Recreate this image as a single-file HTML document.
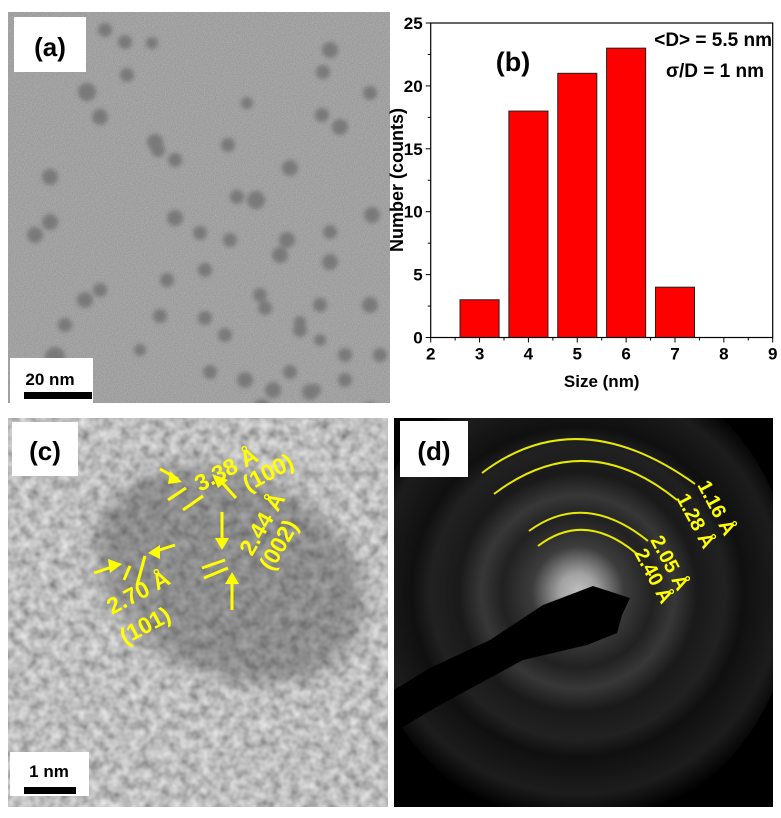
<!DOCTYPE html>
<html><head><meta charset="utf-8">
<style>
html,body{margin:0;padding:0;background:#fff;}
body{width:781px;height:818px;overflow:hidden;font-family:"Liberation Sans",sans-serif;}
svg{position:absolute;left:0;top:0;}
</style></head>
<body>
<svg id="fig" width="781" height="818" viewBox="0 0 781 818" xmlns="http://www.w3.org/2000/svg">
<defs>
  <filter id="noiseA" x="0" y="0" width="100%" height="100%">
    <feTurbulence type="fractalNoise" baseFrequency="0.9" numOctaves="2" seed="3" result="n"/>
    <feColorMatrix type="matrix" values="0 0 0 0 0.55  0 0 0 0 0.55  0 0 0 0 0.55  0.9 0 0 0 -0.3" in="n" result="m"/>
    <feComposite in="m" in2="SourceGraphic" operator="over"/>
  </filter>
  <filter id="noiseC" x="0" y="0" width="100%" height="100%">
    <feTurbulence type="fractalNoise" baseFrequency="0.1" numOctaves="2" seed="7" result="n"/>
    <feColorMatrix type="matrix" values="0.8 0 0 0 0.15  0.8 0 0 0 0.15  0.8 0 0 0 0.15  0 0 0 0 1" in="n"/>
  </filter>
  <filter id="blur2"><feGaussianBlur stdDeviation="2.2"/></filter>
  <filter id="blur6"><feGaussianBlur stdDeviation="8"/></filter>
  <radialGradient id="sad" cx="578" cy="592" r="230" gradientUnits="userSpaceOnUse">
    <stop offset="0" stop-color="#ffffff"/>
    <stop offset="0.08" stop-color="#d8d8d8"/>
    <stop offset="0.2" stop-color="#505050"/>
    <stop offset="0.33" stop-color="#2c2c2c"/>
    <stop offset="0.42" stop-color="#4a4a4a"/>
    <stop offset="0.52" stop-color="#222"/>
    <stop offset="0.64" stop-color="#2c2c2c"/>
    <stop offset="0.72" stop-color="#151515"/>
    <stop offset="0.88" stop-color="#262626"/>
    <stop offset="1" stop-color="#000"/>
  </radialGradient>
  <clipPath id="clipA"><rect x="8" y="12" width="382" height="391"/></clipPath>
  <clipPath id="clipC"><rect x="8" y="418" width="380" height="389"/></clipPath>
  <clipPath id="clipD"><rect x="394" y="418" width="379" height="389"/></clipPath>
</defs>

<g clip-path="url(#clipA)">
  <rect x="8" y="12" width="382" height="391" fill="#9a9a9a"/>
  <rect x="8" y="12" width="382" height="391" fill="#9a9a9a" filter="url(#noiseA)"/>
  <g id="particles" fill="#606060" opacity="0.6" filter="url(#blur2)"></g>
</g>
<rect x="14" y="17" width="72" height="55" fill="#fff"/>
<text x="50" y="56" font-size="26" font-weight="bold" text-anchor="middle" fill="#000">(a)</text>
<rect x="10" y="358" width="83" height="45" fill="#fff"/>
<text x="50" y="385" font-size="17" font-weight="bold" text-anchor="middle">20 nm</text>
<rect x="24" y="392" width="68" height="7" fill="#000"/>

<g id="chart"></g>

<g clip-path="url(#clipC)">
  <rect x="8" y="418" width="380" height="389" fill="#888"/>
  <rect x="8" y="418" width="380" height="389" filter="url(#noiseC)" opacity="0.9"/>
  <ellipse cx="230" cy="575" rx="140" ry="100" fill="#333" opacity="0.35" filter="url(#blur6)" transform="rotate(25 230 575)"/>
</g>
<rect x="12" y="422" width="66" height="54" fill="#fff"/>
<text x="45" y="460" font-size="26" font-weight="bold" text-anchor="middle">(c)</text>
<g fill="none" stroke="#ffff00" stroke-width="3">
  <line x1="168" y1="500" x2="186" y2="488"/><line x1="183" y1="510" x2="203" y2="496"/>
  <line x1="124" y1="580" x2="130" y2="566"/><line x1="137" y1="585" x2="145" y2="556"/>
  <line x1="202" y1="568" x2="225" y2="560"/><line x1="204" y1="578" x2="228" y2="568"/>
  <path d="M160 469 L178 479"/><path d="M218 478 L236 498"/>
  <path d="M94 573 L118 565"/><path d="M175 545 L153 552"/>
  <path d="M222 512 L222 545"/><path d="M232 610 L232 577"/>
</g>
<g fill="#ffff00">
  <polygon points="182,482 170,471 168,484"/><polygon points="212,474 228,480 218,488"/>
  <polygon points="122,564 108,559 110,573"/><polygon points="148,553 160,545 160,559"/>
  <polygon points="222,550 215,538 229,538"/><polygon points="232,572 225,584 239,584"/>
</g>
<g fill="#ffff00" font-size="23" font-weight="bold">
  <text transform="translate(200,492) rotate(-28)">3.38 Å</text>
  <text transform="translate(248,492) rotate(-28)">(100)</text>
  <text transform="translate(252,557) rotate(-60)">2.44 Å</text>
  <text transform="translate(272,572) rotate(-60)">(002)</text>
  <text transform="translate(112,615) rotate(-28)">2.70 Å</text>
  <text transform="translate(125,645) rotate(-28)">(101)</text>
</g>
<rect x="10" y="752" width="79" height="44" fill="#fff"/>
<text x="49" y="777" font-size="17" font-weight="bold" text-anchor="middle">1 nm</text>
<rect x="24" y="787" width="52" height="7" fill="#000"/>

<g clip-path="url(#clipD)">
  <rect x="394" y="418" width="379" height="389" fill="#000"/>
  <ellipse cx="578" cy="592" rx="215" ry="235" fill="url(#sad)" opacity="0.75"/>
  <polygon fill="#000" points="394,690 430,668 490,640 543,605 593,586 630,598 622,615 617,633 587,645 523,660 440,705 394,732"/>
</g>
<rect x="400" y="421" width="68" height="56" fill="#fff"/>
<text x="434" y="460" font-size="26" font-weight="bold" text-anchor="middle">(d)</text>
<g fill="none" stroke="#e8e800" stroke-width="2">
  <path d="M482 473 Q578 400 695 484"/>
  <path d="M494 494 Q585 425 677 500"/>
  <path d="M529 531 Q585 490 648 541"/>
  <path d="M538 546 Q585 510 637 554"/>
</g>
<g fill="#ffff00" font-size="20" font-weight="bold">
  <text transform="translate(697,485) rotate(62)">1.16 Å</text>
  <text transform="translate(676,498) rotate(62)">1.28 Å</text>
  <text transform="translate(650,540) rotate(62)">2.05 Å</text>
  <text transform="translate(634,553) rotate(62)">2.40 Å</text>
</g>
</svg>
<script>
var partX=[105,125,152,127,87,100,158,175,155,228,247,290,322,330,323,340,370,175,200,237,256,287,330,372,50,50,230,100,65,85,55,167,160,205,260,280,330,320,370,205,225,300,320,345,380,140,210,245,273,310,370,262,290,345,265,300,315,35];
var partY=[30,42,43,75,92,117,150,160,142,145,103,168,115,50,72,127,93,218,233,197,200,240,232,215,177,222,240,290,325,300,357,280,316,270,295,255,262,305,305,318,335,322,340,355,355,350,372,380,390,392,410,408,372,380,308,330,390,235];
var partR=[7,7,6,7,9,8,7,7,8,7,6,8,7,8,7,8,7,8,7,7,9,8,7,8,8,8,7,7,7,8,10,7,7,7,7,8,8,7,8,7,7,6,6,7,7,6,7,8,8,8,8,9,7,7,7,7,6,8];
var sizes=[3,4,5,6,7];
var counts=[3,18,21,23,4];
var xTicks=[2,3,4,5,6,7,8,9];
var yTicks=[0,5,10,15,20,25];
var NS='http://www.w3.org/2000/svg';
var pg=document.getElementById('particles');
for(var i=0;i<partX.length;i++){
  var c=document.createElementNS(NS,'circle');
  
  
  c.setAttribute('cx',partX[i]);c.setAttribute('cy',partY[i]);c.setAttribute('r',partR[i]);
  pg.appendChild(c);
}
var g=document.getElementById('chart');
var x0=430.7,x1=772.7,y0=337.5,y1=23;
function sx(v){return x0+(v-2)/(9-2)*(x1-x0);}
function sy(v){return y0-(v/25)*(y0-y1);}
function el(t,a){var e=document.createElementNS(NS,t);for(var k in a)e.setAttribute(k,a[k]);g.appendChild(e);return e;}
for(var i=0;i<sizes.length;i++){
  var r=el('rect',{x:sx(sizes[i]-0.4),y:sy(counts[i]),width:sx(sizes[i]+0.4)-sx(sizes[i]-0.4),height:y0-sy(counts[i]),fill:'#ff0000',stroke:'#222','stroke-width':1});
  
  
}
var fr=el('rect',{x:x0,y:y1,width:x1-x0,height:y0-y1,fill:'none',stroke:'#000','stroke-width':1.2});


for(var i=0;i<xTicks.length;i++){
  var xx=sx(xTicks[i]);
  el('line',{x1:xx,y1:y0,x2:xx,y2:y0+5,stroke:'#000'});
  if(i<xTicks.length-1)el('line',{x1:sx(xTicks[i]+0.5),y1:y0,x2:sx(xTicks[i]+0.5),y2:y0+3,stroke:'#000'});
  var t=el('text',{x:xx,y:y0+22,'font-size':17,'font-weight':'bold','text-anchor':'middle'});
  t.textContent=xTicks[i];
  
  
}
for(var i=0;i<yTicks.length;i++){
  var yy=sy(yTicks[i]);
  el('line',{x1:x0-5,y1:yy,x2:x0,y2:yy,stroke:'#000'});
  if(i<yTicks.length-1)el('line',{x1:x0-3,y1:sy(yTicks[i]+2.5),x2:x0,y2:sy(yTicks[i]+2.5),stroke:'#000'});
  var t=el('text',{x:x0-8,y:yy+6,'font-size':17,'font-weight':'bold','text-anchor':'end'});
  t.textContent=yTicks[i];
  
  
}
var xt=el('text',{x:(x0+x1)/2,y:387,'font-size':17,'font-weight':'bold','text-anchor':'middle'});
xt.textContent='Size (nm)';


var yt=el('text',{x:0,y:0,'font-size':18,'font-weight':'bold','text-anchor':'middle',transform:'translate(403,180) rotate(-90)'});
yt.textContent='Number (counts)';


var bl=el('text',{x:513,y:71,'font-size':27,'font-weight':'bold','text-anchor':'middle'});
bl.textContent='(b)';


var a1=el('text',{x:772,y:46,'font-size':19,'font-weight':'bold','text-anchor':'end'});
a1.textContent='<D> = 5.5 nm';


var a2=el('text',{x:764,y:77,'font-size':19,'font-weight':'bold','text-anchor':'end'});
a2.textContent='\u03c3/D = 1 nm';


</script>
</body></html>
